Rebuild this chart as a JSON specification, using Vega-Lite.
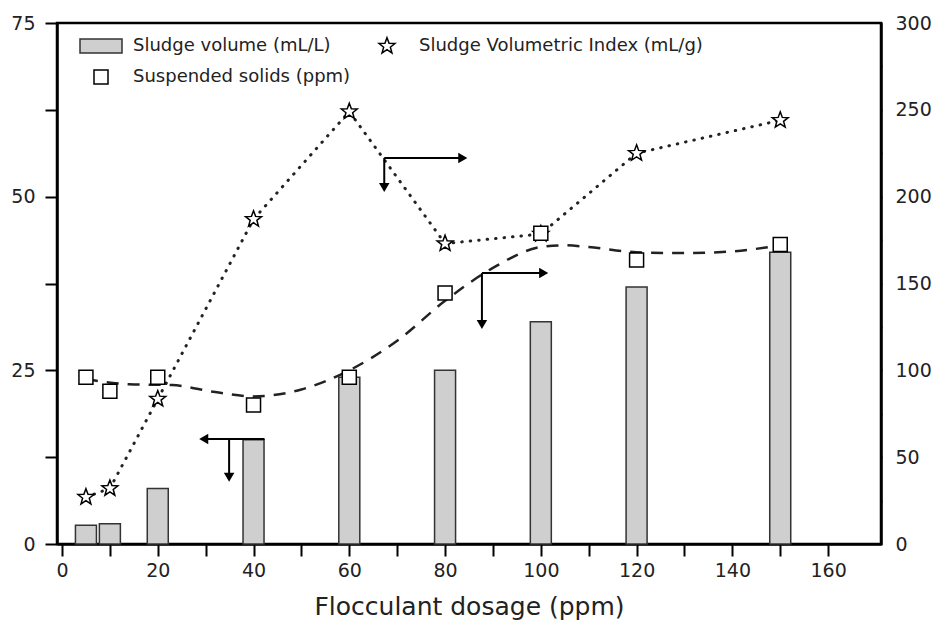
{
  "$schema": "https://vega.github.io/schema/vega-lite/v6.json",
  "width": 824,
  "height": 521,
  "autosize": {"type": "none"},
  "padding": {"left": 57, "top": 23, "right": 57, "bottom": 79},
  "background": "white",
  "config": {
    "font": "DejaVu Sans",
    "view": {"stroke": "black", "strokeWidth": 2.5},
    "axis": {
      "grid": false,
      "domainColor": "black",
      "domainWidth": 2.5,
      "tickColor": "black",
      "tickWidth": 2,
      "labelFont": "DejaVu Sans",
      "labelFontSize": 19,
      "labelColor": "#222",
      "titleFont": "DejaVu Sans",
      "titleColor": "#222",
      "titleFontWeight": "normal"
    },
    "legend": {
      "orient": "none", "legendX": 35, "legendY": 14, "columns": 2, "direction": "vertical",
      "labelFontSize": 18, "labelFont": "DejaVu Sans", "labelColor": "#222", "labelLimit": 500,
      "symbolSize": 196, "symbolStrokeWidth": 1.5,
      "labelOffset": 23, "columnPadding": 25, "rowPadding": 11
    }
  },
  "datasets": {
    "bars": [
      {"dosage": 5, "volume": 2.7},
      {"dosage": 10, "volume": 2.9},
      {"dosage": 20, "volume": 8},
      {"dosage": 40, "volume": 15},
      {"dosage": 60, "volume": 24},
      {"dosage": 80, "volume": 25},
      {"dosage": 100, "volume": 32},
      {"dosage": 120, "volume": 37},
      {"dosage": 150, "volume": 42}
    ],
    "points": [
      {"dosage": 5, "value": 27, "series": "Sludge Volumetric Index (mL/g)"},
      {"dosage": 10, "value": 32, "series": "Sludge Volumetric Index (mL/g)"},
      {"dosage": 20, "value": 83.5, "series": "Sludge Volumetric Index (mL/g)"},
      {"dosage": 40, "value": 187, "series": "Sludge Volumetric Index (mL/g)"},
      {"dosage": 60, "value": 249, "series": "Sludge Volumetric Index (mL/g)"},
      {"dosage": 80, "value": 173, "series": "Sludge Volumetric Index (mL/g)"},
      {"dosage": 100, "value": 178.5, "series": "Sludge Volumetric Index (mL/g)"},
      {"dosage": 120, "value": 225, "series": "Sludge Volumetric Index (mL/g)"},
      {"dosage": 150, "value": 244, "series": "Sludge Volumetric Index (mL/g)"},
      {"dosage": 5, "value": 96, "series": "Suspended solids (ppm)"},
      {"dosage": 10, "value": 88, "series": "Suspended solids (ppm)"},
      {"dosage": 20, "value": 96, "series": "Suspended solids (ppm)"},
      {"dosage": 40, "value": 80, "series": "Suspended solids (ppm)"},
      {"dosage": 60, "value": 96, "series": "Suspended solids (ppm)"},
      {"dosage": 80, "value": 144.5, "series": "Suspended solids (ppm)"},
      {"dosage": 100, "value": 179, "series": "Suspended solids (ppm)"},
      {"dosage": 120, "value": 163.5, "series": "Suspended solids (ppm)"},
      {"dosage": 150, "value": 172.5, "series": "Suspended solids (ppm)"}
    ],
    "ss_fit": [
      {"dosage": 5, "value": 95},
      {"dosage": 14, "value": 92},
      {"dosage": 23, "value": 91.5},
      {"dosage": 32, "value": 87.5},
      {"dosage": 40, "value": 85},
      {"dosage": 50, "value": 89},
      {"dosage": 60, "value": 100},
      {"dosage": 70, "value": 117},
      {"dosage": 80, "value": 140},
      {"dosage": 90, "value": 159},
      {"dosage": 100, "value": 171},
      {"dosage": 105, "value": 172},
      {"dosage": 110, "value": 171},
      {"dosage": 120, "value": 168},
      {"dosage": 130, "value": 167.5},
      {"dosage": 140, "value": 168.5},
      {"dosage": 150, "value": 172}
    ],
    "arrows_left": [
      {"dosage": 29.6, "dosage2": 42.3, "volume": 15.1, "volume2": 15.1},
      {"dosage": 34.9, "dosage2": 34.9, "volume": 15.1, "volume2": 9.6}
    ],
    "heads_left": [
      {"dosage": 29.6, "volume": 15.1, "head": "triangle-left"},
      {"dosage": 34.9, "volume": 9.6, "head": "triangle-down"}
    ],
    "arrows_right": [
      {"dosage": 67.3, "dosage2": 83.7, "value": 222.3, "value2": 222.3},
      {"dosage": 67.3, "dosage2": 67.3, "value": 222.3, "value2": 205.3},
      {"dosage": 87.7, "dosage2": 100.6, "value": 156, "value2": 156},
      {"dosage": 87.7, "dosage2": 87.7, "value": 156, "value2": 126.4}
    ],
    "heads_right": [
      {"dosage": 83.7, "value": 222.3, "head": "triangle-right"},
      {"dosage": 67.3, "value": 205.3, "head": "triangle-down"},
      {"dosage": 100.6, "value": 156, "head": "triangle-right"},
      {"dosage": 87.7, "value": 126.4, "head": "triangle-down"}
    ]
  },
  "encoding": {
    "x": {
      "field": "dosage",
      "type": "quantitative",
      "scale": {"domain": [0, 170], "nice": false},
      "axis": {
        "orient": "bottom",
        "title": "Flocculant dosage (ppm)",
        "titleFontSize": 25,
        "titlePadding": 14,
        "values": [0, 10, 20, 30, 40, 50, 60, 70, 80, 90, 100, 110, 120, 130, 140, 150, 160],
        "labelExpr": "datum.value % 20 === 0 ? '' + datum.value : ''",
        "tickSize": 12,
        "labelPadding": 5,
        "encode": {"ticks": {"update": {"y2": {"signal": "datum.value % 20 === 0 ? 12 : 6"}}}}
      }
    }
  },
  "layer": [
    {
      "encoding": {
        "y": {
          "field": "volume",
          "type": "quantitative",
          "scale": {"domain": [0, 75], "nice": false},
          "axis": {
            "orient": "left",
            "title": null,
            "values": [0, 12.5, 25, 37.5, 50, 62.5, 75],
            "labelExpr": "datum.value % 25 === 0 ? '' + datum.value : ''",
            "tickSize": 12,
            "labelPadding": 10,
            "encode": {"ticks": {"update": {"x2": {"signal": "datum.value % 25 === 0 ? -12 : -7"}}}}
          }
        }
      },
      "layer": [
        {
          "data": {"name": "bars"},
          "mark": {"type": "bar", "size": 21, "fill": "#cfcfcf", "stroke": "#333", "strokeWidth": 1.5}
        },
        {
          "data": {"name": "arrows_left"},
          "mark": {"type": "rule", "color": "black", "strokeWidth": 2},
          "encoding": {"x2": {"field": "dosage2"}, "y2": {"field": "volume2"}}
        },
        {
          "data": {"name": "heads_left"},
          "mark": {"type": "point", "filled": true, "color": "black", "size": 110, "opacity": 1},
          "encoding": {"shape": {"field": "head", "type": "nominal", "scale": null}}
        }
      ]
    },
    {
      "encoding": {
        "y": {
          "field": "value",
          "type": "quantitative",
          "scale": {"domain": [0, 300], "nice": false},
          "axis": {
            "orient": "right",
            "title": null,
            "values": [0, 25, 50, 75, 100, 125, 150, 175, 200, 225, 250, 275, 300],
            "labelExpr": "datum.value % 50 === 0 ? '' + datum.value : ''",
            "tickSize": 1,
            "labelPadding": 13,
            "encode": {"ticks": {"update": {"x2": {"signal": "datum.value % 50 === 0 ? -11 : -6"}}}}
          }
        }
      },
      "layer": [
        {
          "data": {"name": "points"},
          "transform": [{"filter": "datum.series === 'Sludge Volumetric Index (mL/g)'"}],
          "mark": {"type": "line", "color": "#222", "strokeWidth": 3, "strokeDash": [0.5, 8], "strokeCap": "round"}
        },
        {
          "data": {"name": "ss_fit"},
          "mark": {"type": "line", "color": "#222", "strokeWidth": 2.5, "strokeDash": [12, 9], "interpolate": "monotone"}
        },
        {
          "data": {"name": "points"},
          "mark": {"type": "point", "filled": true, "strokeWidth": 1.5, "size": 196, "opacity": 1},
          "encoding": {
            "shape": {
              "field": "series",
              "type": "nominal",
              "title": null,
              "scale": {
                "domain": ["Sludge volume (mL/L)", "Suspended solids (ppm)", "Sludge Volumetric Index (mL/g)"],
                "range": [
                  "M-3,-1L3,-1L3,1L-3,1Z",
                  "square",
                  "M0,-1.2L0.296,-0.408L1.141,-0.371L0.479,0.156L0.706,0.971L0,0.504L-0.706,0.971L-0.479,0.156L-1.141,-0.371L-0.296,-0.408Z"
                ]
              }
            },
            "fill": {
              "field": "series",
              "type": "nominal",
              "title": null,
              "scale": {
                "domain": ["Sludge volume (mL/L)", "Suspended solids (ppm)", "Sludge Volumetric Index (mL/g)"],
                "range": ["#cfcfcf", "white", "white"]
              }
            },
            "stroke": {
              "field": "series",
              "type": "nominal",
              "title": null,
              "scale": {
                "domain": ["Sludge volume (mL/L)", "Suspended solids (ppm)", "Sludge Volumetric Index (mL/g)"],
                "range": ["#333", "black", "black"]
              }
            }
          }
        },
        {
          "data": {"name": "arrows_right"},
          "mark": {"type": "rule", "color": "black", "strokeWidth": 2},
          "encoding": {"x2": {"field": "dosage2"}, "y2": {"field": "value2"}}
        },
        {
          "data": {"name": "heads_right"},
          "mark": {"type": "point", "filled": true, "color": "black", "size": 110, "opacity": 1},
          "encoding": {"shape": {"field": "head", "type": "nominal", "scale": null}}
        }
      ]
    }
  ],
  "resolve": {"scale": {"y": "independent"}}
}
